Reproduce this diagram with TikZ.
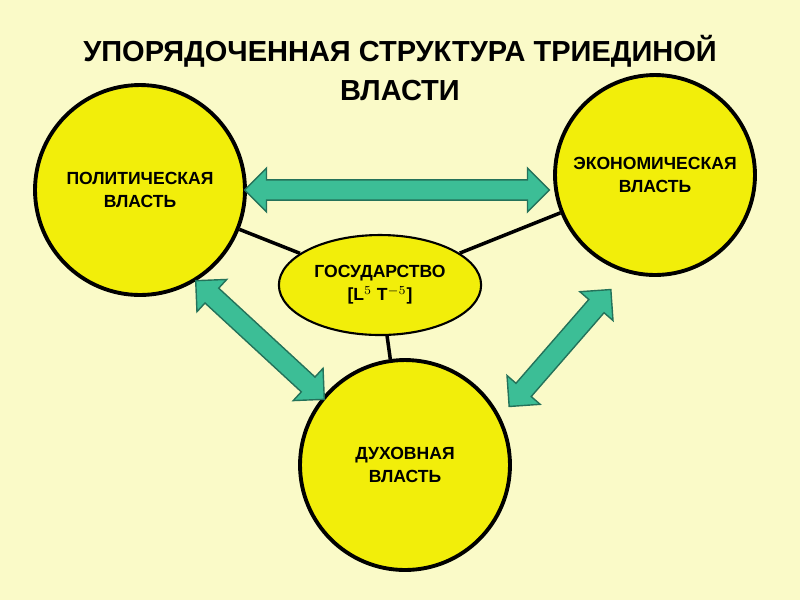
\documentclass[tikz,border=0pt]{standalone}
\usepackage{fontspec}
\setmainfont{Liberation Sans}
\usetikzlibrary{shapes.geometric,shapes.arrows}
\definecolor{bg}{RGB}{250,250,200}
\definecolor{yel}{RGB}{242,238,10}
\definecolor{teal}{RGB}{60,190,150}
\tikzset{
 circ/.style={circle,draw=black,line width=2.2pt,fill=yel,minimum size=#1,align=center,font=\bfseries\fontsize{10}{13}\selectfont},
 conn/.style={line width=2pt,black},
 darr/.style={double arrow,draw=teal!60!black,line width=0.8pt,fill=teal,minimum height=#1,minimum width=25pt,double arrow head extend=4pt,inner sep=3pt}
}
\begin{document}
\begin{tikzpicture}[x=0.02cm,y=-0.02cm]
\useasboundingbox (0,0) rectangle (800,600);
\fill[bg] (0,0) rectangle (800,600);
\node[font=\bfseries\fontsize{16.5}{22}\selectfont,align=center] (title) at (400,68) {УПОРЯДОЧЕННАЯ СТРУКТУРА ТРИЕДИНОЙ\\ВЛАСТИ};
\node[circ=4.2cm] (pol) at (140,190) {ПОЛИТИЧЕСКАЯ\\ВЛАСТЬ};
\node[circ=4.0cm] (eco) at (655,175) {ЭКОНОМИЧЕСКАЯ\\ВЛАСТЬ};
\node[circ=4.2cm] (duh) at (405,465) {ДУХОВНАЯ\\ВЛАСТЬ};
\node[ellipse,draw=black,line width=1.2pt,fill=yel,minimum width=4cm,minimum height=2cm,align=center,font=\bfseries\fontsize{10}{13}\selectfont] (gos) at (380,285) {ГОСУДАРСТВО\\{}[L$^{5}$ T$^{-5}$]};
\draw[conn] (pol) -- (gos);
\draw[conn] (eco) -- (gos);
\draw[conn] (gos) -- (duh);
\node[darr=6.1cm] (a1) at (397,190) {};
\node[darr=3.5cm,rotate=-42.7] (a2) at (260,340) {};
\node[darr=3.1cm,rotate=49] (a3) at (560,348) {};
\end{tikzpicture}
\end{document}
